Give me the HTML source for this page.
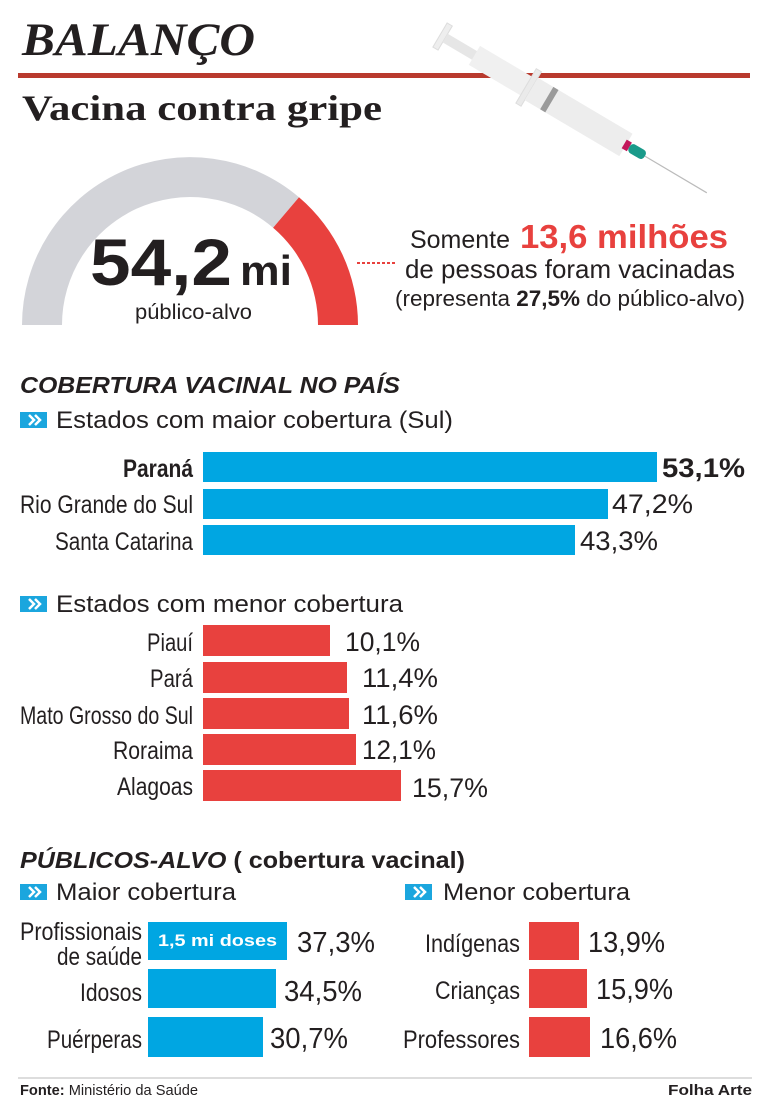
<!DOCTYPE html>
<html><head><meta charset="utf-8"><style>
html,body{margin:0;padding:0;background:#fff;}
svg{display:block;}
text{font-family:"Liberation Sans Narrow","Liberation Sans",sans-serif;fill:#231f20;}
.s{font-family:"Liberation Serif",serif;}
</style></head><body>
<svg width="770" height="1100" viewBox="0 0 770 1100" xmlns="http://www.w3.org/2000/svg">
<defs>
<g id="ic"><rect x="0" y="0" width="27" height="16" fill="#1ba6de"/><path d="M9 3 L14 8 L9 13 M15 3 L20 8 L15 13" stroke="#fff" stroke-width="2.5" fill="none"/></g>
</defs>
<text class="s" x="22" y="55" font-size="47" font-weight="bold" font-style="italic" textLength="233" lengthAdjust="spacingAndGlyphs">BALANÇO</text>
<rect x="18" y="73" width="732" height="5" fill="#b93a2e"/>
<g transform="translate(440,35) rotate(30.6)">
<rect x="0" y="-14" width="6" height="28" fill="#eeeeee" stroke="#ddd"/>
<rect x="6" y="-5" width="100" height="10" fill="#e6e6e6"/>
<rect x="40" y="-11" width="62" height="22" fill="#f0f0f0"/>
<rect x="100" y="-20" width="6" height="40" fill="#eaeaea" stroke="#ddd"/>
<rect x="106" y="-13" width="110" height="26" fill="#ededed"/>
<rect x="124" y="-13" width="6" height="26" fill="#9a9a9a"/>
<rect x="214" y="-5" width="6" height="10" fill="#c2185b"/>
<rect x="220" y="-5" width="18" height="10" rx="4" fill="#1a9a8a"/>
<line x1="238" y1="0" x2="310" y2="0" stroke="#bbb" stroke-width="1.2"/>
</g>
<text class="s" x="22" y="120" font-size="36" font-weight="bold" textLength="360" lengthAdjust="spacingAndGlyphs">Vacina contra gripe</text>
<path d="M22 325 A168 168 0 0 1 299 197.3 L273.1 227.7 A128 128 0 0 0 62 325 Z" fill="#d3d4d9"/>
<path d="M299 197.3 A168 168 0 0 1 358 325 L318 325 A128 128 0 0 0 273.1 227.7 Z" fill="#e8413e"/>
<text x="90" y="285" font-size="66" font-weight="bold" textLength="142" lengthAdjust="spacingAndGlyphs">54,2</text>
<text x="240" y="285" font-size="42" font-weight="bold" textLength="52" lengthAdjust="spacingAndGlyphs">mi</text>
<text x="135" y="319" font-size="21" textLength="117" lengthAdjust="spacingAndGlyphs">público-alvo</text>
<line x1="357" y1="263" x2="395" y2="263" stroke="#e8413e" stroke-width="2" stroke-dasharray="3,2"/>
<text x="410" y="248" font-size="25" textLength="100" lengthAdjust="spacingAndGlyphs">Somente</text>
<text x="520" y="248" font-size="33" font-weight="bold" style="fill:#e8413e" textLength="208" lengthAdjust="spacingAndGlyphs">13,6 milhões</text>
<text x="405" y="278" font-size="26" textLength="330" lengthAdjust="spacingAndGlyphs">de pessoas foram vacinadas</text>
<text x="395" y="306" font-size="22" textLength="350" lengthAdjust="spacingAndGlyphs">(representa <tspan font-weight="bold">27,5%</tspan> do público-alvo)</text>
<text x="20" y="393" font-size="23" font-weight="bold" font-style="italic" textLength="380" lengthAdjust="spacingAndGlyphs">COBERTURA VACINAL NO PAÍS</text>
<use href="#ic" x="20" y="412"/>
<text x="56" y="428" font-size="24" textLength="397" lengthAdjust="spacingAndGlyphs">Estados com maior cobertura (Sul)</text>
<rect x="203" y="452" width="454" height="30" fill="#00a6e2"/>
<rect x="203" y="489" width="405" height="30" fill="#00a6e2"/>
<rect x="203" y="525" width="372" height="30" fill="#00a6e2"/>
<g font-size="25">
<text x="123" y="477" font-weight="bold" textLength="70" lengthAdjust="spacingAndGlyphs">Paraná</text>
<text x="20" y="513" textLength="173" lengthAdjust="spacingAndGlyphs">Rio Grande do Sul</text>
<text x="55" y="550" textLength="138" lengthAdjust="spacingAndGlyphs">Santa Catarina</text>
</g>
<g font-size="27">
<text x="662" y="477" font-weight="bold" textLength="83" lengthAdjust="spacingAndGlyphs">53,1%</text>
<text x="612" y="513" textLength="81" lengthAdjust="spacingAndGlyphs">47,2%</text>
<text x="580" y="550" textLength="78" lengthAdjust="spacingAndGlyphs">43,3%</text>
</g>
<use href="#ic" x="20" y="596"/>
<text x="56" y="612" font-size="24" textLength="347" lengthAdjust="spacingAndGlyphs">Estados com menor cobertura</text>
<g fill="#e8413e">
<rect x="203" y="625" width="127" height="31"/>
<rect x="203" y="662" width="144" height="31"/>
<rect x="203" y="698" width="146" height="31"/>
<rect x="203" y="734" width="153" height="31"/>
<rect x="203" y="770" width="198" height="31"/>
</g>
<g font-size="25">
<text x="147" y="651" textLength="46" lengthAdjust="spacingAndGlyphs">Piauí</text>
<text x="150" y="687" textLength="43" lengthAdjust="spacingAndGlyphs">Pará</text>
<text x="20" y="724" textLength="173" lengthAdjust="spacingAndGlyphs">Mato Grosso do Sul</text>
<text x="113" y="759" textLength="80" lengthAdjust="spacingAndGlyphs">Roraima</text>
<text x="117" y="795" textLength="76" lengthAdjust="spacingAndGlyphs">Alagoas</text>
</g>
<g font-size="27">
<text x="345" y="651" textLength="75" lengthAdjust="spacingAndGlyphs">10,1%</text>
<text x="362" y="687" textLength="76" lengthAdjust="spacingAndGlyphs">11,4%</text>
<text x="362" y="724" textLength="76" lengthAdjust="spacingAndGlyphs">11,6%</text>
<text x="362" y="759" textLength="74" lengthAdjust="spacingAndGlyphs">12,1%</text>
<text x="412" y="797" textLength="76" lengthAdjust="spacingAndGlyphs">15,7%</text>
</g>
<text x="20" y="868" font-size="23" font-weight="bold" textLength="445" lengthAdjust="spacingAndGlyphs"><tspan font-style="italic">PÚBLICOS-ALVO</tspan> ( cobertura vacinal)</text>
<use href="#ic" x="20" y="884"/>
<text x="56" y="900" font-size="24" textLength="180" lengthAdjust="spacingAndGlyphs">Maior cobertura</text>
<use href="#ic" x="405" y="884"/>
<text x="443" y="900" font-size="24" textLength="187" lengthAdjust="spacingAndGlyphs">Menor cobertura</text>
<rect x="148" y="922" width="139" height="38" fill="#00a6e2"/>
<rect x="148" y="969" width="128" height="39" fill="#00a6e2"/>
<rect x="148" y="1017" width="115" height="40" fill="#00a6e2"/>
<text x="158" y="946" font-size="17" font-weight="bold" style="fill:#fff" textLength="119" lengthAdjust="spacingAndGlyphs">1,5 mi doses</text>
<g font-size="25">
<text x="20" y="940" textLength="122" lengthAdjust="spacingAndGlyphs">Profissionais</text>
<text x="57" y="965" textLength="85" lengthAdjust="spacingAndGlyphs">de saúde</text>
<text x="80" y="1001" textLength="62" lengthAdjust="spacingAndGlyphs">Idosos</text>
<text x="47" y="1048" textLength="95" lengthAdjust="spacingAndGlyphs">Puérperas</text>
</g>
<g font-size="29">
<text x="297" y="952" textLength="78" lengthAdjust="spacingAndGlyphs">37,3%</text>
<text x="284" y="1001" textLength="78" lengthAdjust="spacingAndGlyphs">34,5%</text>
<text x="270" y="1048" textLength="78" lengthAdjust="spacingAndGlyphs">30,7%</text>
</g>
<g fill="#e8413e">
<rect x="529" y="922" width="50" height="38"/>
<rect x="529" y="969" width="58" height="39"/>
<rect x="529" y="1017" width="61" height="40"/>
</g>
<g font-size="25">
<text x="425" y="952" textLength="95" lengthAdjust="spacingAndGlyphs">Indígenas</text>
<text x="435" y="999" textLength="85" lengthAdjust="spacingAndGlyphs">Crianças</text>
<text x="403" y="1048" textLength="117" lengthAdjust="spacingAndGlyphs">Professores</text>
</g>
<g font-size="29">
<text x="588" y="952" textLength="77" lengthAdjust="spacingAndGlyphs">13,9%</text>
<text x="596" y="999" textLength="77" lengthAdjust="spacingAndGlyphs">15,9%</text>
<text x="600" y="1048" textLength="77" lengthAdjust="spacingAndGlyphs">16,6%</text>
</g>
<line x1="18" y1="1078" x2="752" y2="1078" stroke="#ddd" stroke-width="2"/>
<text x="20" y="1095" font-size="15" textLength="178" lengthAdjust="spacingAndGlyphs"><tspan font-weight="bold">Fonte:</tspan> Ministério da Saúde</text>
<text x="668" y="1095" font-size="15" font-weight="bold" textLength="84" lengthAdjust="spacingAndGlyphs">Folha Arte</text>
</svg>
</body></html>
